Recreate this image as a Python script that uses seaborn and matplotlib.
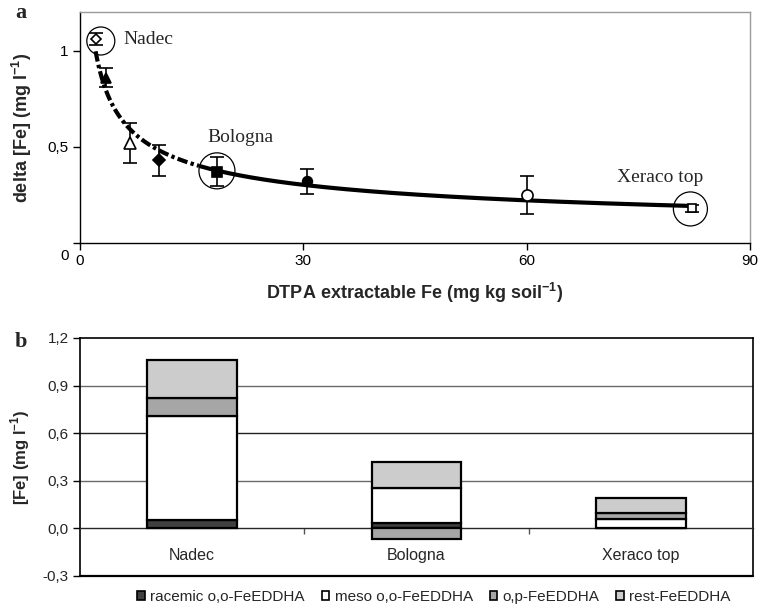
import numpy as np
import pandas as pd
import matplotlib
matplotlib.use("Agg")
import matplotlib.pyplot as plt
import matplotlib.transforms as mtransforms
from matplotlib.patches import Patch
import seaborn as sns

# ---------------- data: panel a ----------------
dtpa_fe = [2.1, 3.5, 6.7, 10.6, 18.4, 30.5, 60.0, 82.2]
delta_fe = [1.06, 0.86, 0.52, 0.43, 0.37, 0.32, 0.25, 0.18]
delta_err = [0.03, 0.05, 0.105, 0.08, 0.075, 0.065, 0.10, 0.02]
markers = ["D", "^", "^", "D", "s", "o", "o", "s"]
filled = [False, True, False, True, True, True, False, False]
marker_sizes = [5, 7, 8, 6, 7, 7, 8, 6]

soil_names = ["Nadec", "Bologna", "Xeraco top"]
circle_x = [2.8, 18.4, 82.0]
circle_y = [1.05, 0.375, 0.177]
circle_size = [407, 672, 600]
label_x = [5.8, 21.5, 77.9]
label_y = [1.06, 0.547, 0.34]
label_ha = ["left", "center", "center"]
dash_split = 16

# ---------------- data: panel b ----------------
components = ["racemic o,o-FeEDDHA", "meso o,o-FeEDDHA", "o,p-FeEDDHA", "rest-FeEDDHA"]
racemic = [0.05, 0.036, 0.005]
meso = [0.66, 0.22, 0.052]
op = [0.11, -0.065, 0.043]
rest = [0.24, 0.165, 0.09]
comp_colors = ["#404040", "#ffffff", "#a6a6a6", "#cccccc"]

sns.set_style("ticks")
plt.rcParams["font.family"] = ["Liberation Sans", "DejaVu Sans"]
plt.rcParams["mathtext.fontset"] = "custom"
plt.rcParams["mathtext.rm"] = "Liberation Sans"
plt.rcParams["mathtext.bf"] = "Liberation Sans:bold"

fig = plt.figure(figsize=(7.58, 6.07), dpi=100)
ax1 = fig.add_axes([0.1055, 0.5997, 0.8839, 0.3803])
ax2 = fig.add_axes([0.1055, 0.0511, 0.8879, 0.3921])

# ---------- panel a ----------
xs = np.array(dtpa_fe)
ys = np.array(delta_fe)
b, lna = np.polyfit(np.log(xs), np.log(ys), 1)
xfit = np.linspace(xs.min(), xs.max(), 400)
yfit = np.exp(lna) * xfit ** b
fit_df = pd.DataFrame({"x": xfit, "y": yfit})
sns.lineplot(data=fit_df[fit_df.x <= dash_split], x="x", y="y", ax=ax1,
             color="black", lw=3, dashes=False, linestyle=(0, (2.5, 0.8, 0.8, 0.8)), zorder=2)
sns.lineplot(data=fit_df[fit_df.x >= dash_split], x="x", y="y", ax=ax1,
             color="black", lw=3, zorder=2)

for x, y, e, m, f, ms in zip(dtpa_fe, delta_fe, delta_err, markers, filled, marker_sizes):
    ax1.errorbar(x, y, yerr=e, fmt="none", ecolor="black", elinewidth=1.2,
                 capsize=5, capthick=1.2, zorder=3)
    ax1.plot(x, y, marker=m, ms=ms, mfc="black" if f else "white",
             mec="black", mew=1.2, ls="none", zorder=4)

ax1.scatter(circle_x, circle_y, s=circle_size, facecolors="none",
            edgecolors="black", linewidths=0.9, zorder=5)
for name, tx, ty, ha in zip(soil_names, label_x, label_y, label_ha):
    ax1.text(tx, ty, name, ha=ha, va="center", fontsize=14,
             family="Liberation Serif")

ax1.set_xlim(0, 90)
ax1.set_ylim(0, 1.2)
ax1.set_xticks([0, 30, 60, 90])
ax1.set_xticklabels(["0", "30", "60", "90"])
ax1.set_yticks([0, 0.5, 1])
ax1.set_yticklabels(["0", "0,5", "1"])
ax1.tick_params(axis="both", labelsize=11, length=5, width=1, direction="out",
                color="black", labelcolor="black", pad=3)
ax1.tick_params(axis="x", pad=3)
lab0 = ax1.get_yticklabels()[0]
lab0.set_transform(lab0.get_transform() +
                   mtransforms.ScaledTranslation(0.0, -0.12, fig.dpi_scale_trans))
for side in ["left", "bottom"]:
    ax1.spines[side].set_color("black")
    ax1.spines[side].set_linewidth(1.0)
for side in ["top", "right"]:
    ax1.spines[side].set_visible(True)
    ax1.spines[side].set_color("#9a9a9a")
    ax1.spines[side].set_linewidth(1.0)
ax1.set_xlabel("DTPA extractable Fe (mg kg soil$^{\\mathbf{-1}}$)", fontsize=13,
               fontweight="bold", labelpad=9)
ax1.set_ylabel("delta [Fe] (mg l$^{\\mathbf{-1}}$)", fontsize=13,
               fontweight="bold", labelpad=10)
fig.text(15 / 758, 1 - 13 / 607, "a", fontsize=16, fontweight="bold",
         family="Liberation Serif", va="center", ha="left")

# ---------- panel b ----------
series = [racemic, meso, op, rest]
pos_bottom = np.zeros(len(soil_names))
neg_bottom = np.zeros(len(soil_names))
for vals, col in zip(series, comp_colors):
    vals = np.array(vals)
    bottoms = np.where(vals >= 0, pos_bottom, neg_bottom)
    sns.barplot(x=soil_names, y=vals, bottom=bottoms, color=col, ax=ax2,
                width=0.4, edgecolor="black", linewidth=1.6, saturation=1,
                order=soil_names, zorder=3)
    pos_bottom = pos_bottom + np.where(vals >= 0, vals, 0)
    neg_bottom = neg_bottom + np.where(vals < 0, vals, 0)

ax2.set_ylim(-0.3, 1.2)
ax2.set_xlim(-0.5, 2.5)
ax2.set_yticks([-0.3, 0.0, 0.3, 0.6, 0.9, 1.2])
ax2.set_yticklabels(["-0,3", "0,0", "0,3", "0,6", "0,9", "1,2"])
for gy, gc in zip([0.3, 0.6, 0.9], ["#6a6a6a", "#222222", "#6a6a6a"]):
    ax2.axhline(gy, color=gc, lw=1.0, zorder=1)
ax2.axhline(-0.3, color="black", lw=1.6, zorder=1, clip_on=False)
ax2.spines["bottom"].set_position(("data", 0))
ax2.spines["bottom"].set_linewidth(1.0)
for side in ["top", "right", "left"]:
    ax2.spines[side].set_visible(True)
    ax2.spines[side].set_color("black")
    ax2.spines[side].set_linewidth(1.2)
ax2.set_xticks([0, 1, 2])
ax2.set_xticklabels(soil_names)
ax2.set_xticks([0.5, 1.5], minor=True)
ax2.tick_params(axis="x", which="major", length=0, pad=14, labelsize=11.5)
ax2.tick_params(axis="x", which="minor", length=4, width=1, direction="out", color="#555555")
ax2.tick_params(axis="y", labelsize=11, length=5, width=1, direction="out", color="black", pad=3)
ax2.set_ylabel("[Fe] (mg l$^{\\mathbf{-1}}$)", fontsize=12, fontweight="bold", labelpad=8)
ax2.set_xlabel("")
fig.text(15 / 758, 1 - 342 / 607, "b", fontsize=16, fontweight="bold",
         family="Liberation Serif", va="center", ha="left")

handles = [Patch(facecolor=c, edgecolor="black", linewidth=1.2) for c in comp_colors]
ax2.legend(handles, components, loc="center", bbox_to_anchor=(0.526, -0.088),
           ncol=4, frameon=False, fontsize=11, handlelength=0.5, handleheight=0.5,
           handletextpad=0.35, columnspacing=1.1, borderaxespad=0, borderpad=0)

fig.savefig("out.png", dpi=100)
